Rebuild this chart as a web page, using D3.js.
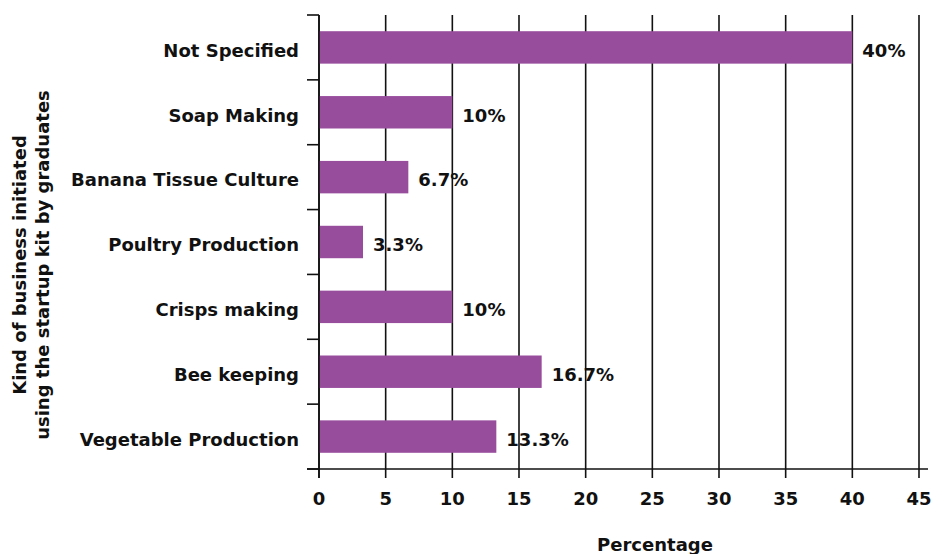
<!DOCTYPE html>
<html><head><meta charset="utf-8">
<script src="https://cdn.jsdelivr.net/npm/d3@7"></script>
<style>body{margin:0;background:#fff}</style>
</head><body>
<svg id="c" width="932" height="554"></svg>
<script>
const categories = ["Not Specified","Soap Making","Banana Tissue Culture","Poultry Production","Crisps making","Bee keeping","Vegetable Production"];
const values = [40,10,6.7,3.3,10,16.7,13.3];
const valueLabels = ["40%","10%","6.7%","3.3%","10%","16.7%","13.3%"];
const xTicks = [0,5,10,15,20,25,30,35,40,45];
const xTitle = "Percentage";
const yTitle = ["Kind of business initiated","using the startup kit by graduates"];

const FONT = "'DejaVu Sans', sans-serif";
const FS = 18;
const svg = d3.select("#c");
const L = 319, R = 919, T = 15, B = 469;
const x = d3.scaleLinear().domain([0,45]).range([L,R]);
const y = d3.scaleBand().domain(categories).range([T,B]).paddingInner(0.5).paddingOuter(0.25);
const yb = d3.scaleBand().domain(categories).range([T,B]);
const ink = "#111";

// gridlines
svg.append("g").selectAll("line").data(xTicks).join("line")
  .attr("x1",d=>x(d)).attr("x2",d=>x(d)).attr("y1",T).attr("y2",B+9)
  .attr("stroke",ink).attr("stroke-width",1.6);

// bars
svg.append("g").selectAll("rect").data(categories).join("rect")
  .attr("x",x(0)).attr("y",d=>y(d)).attr("height",y.bandwidth())
  .attr("width",(d,i)=>x(values[i])-x(0)).attr("fill","#984c9c");

// y axis line and boundary ticks
const bounds = categories.map(c=>yb(c)).concat([B]);
svg.append("line").attr("x1",L).attr("x2",L).attr("y1",T).attr("y2",B+9).attr("stroke",ink).attr("stroke-width",1.6);
svg.append("g").selectAll("line").data(bounds).join("line")
  .attr("x1",L-12).attr("x2",L).attr("y1",d=>d).attr("y2",d=>d).attr("stroke",ink).attr("stroke-width",1.6);
// x axis line
svg.append("line").attr("x1",L-12).attr("x2",928).attr("y1",B).attr("y2",B).attr("stroke",ink).attr("stroke-width",1.6);

// category labels
svg.append("g").selectAll("text").data(categories).join("text")
  .attr("x",299).attr("y",d=>y(d)+y.bandwidth()/2+3).attr("dy","0.35em")
  .attr("text-anchor","end").attr("font-family",FONT).attr("font-weight","bold").attr("font-size",FS)
  .attr("fill",ink).text(d=>d);

// value labels
svg.append("g").selectAll("text").data(categories).join("text")
  .attr("x",(d,i)=>x(values[i])+10).attr("y",d=>y(d)+y.bandwidth()/2+3).attr("dy","0.35em")
  .attr("font-family",FONT).attr("font-weight","bold").attr("font-size",FS)
  .attr("fill",ink).text((d,i)=>valueLabels[i]);

// x tick labels
svg.append("g").selectAll("text").data(xTicks).join("text")
  .attr("x",d=>x(d)).attr("y",499).attr("dy","0.35em").attr("text-anchor","middle")
  .attr("font-family",FONT).attr("font-weight","bold").attr("font-size",FS)
  .attr("fill",ink).text(d=>d);

svg.append("text").attr("x",655).attr("y",545).attr("dy","0.35em").attr("text-anchor","middle")
  .attr("font-family",FONT).attr("font-weight","bold").attr("font-size",FS).attr("fill",ink).text(xTitle);

const yt = svg.append("text").attr("transform","translate(0,265) rotate(-90)")
  .attr("text-anchor","middle").attr("font-family",FONT).attr("font-weight","bold").attr("font-size",FS).attr("fill",ink);
yt.selectAll("tspan").data(yTitle).join("tspan").attr("x",0).attr("y",(d,i)=>20+i*23).attr("dy","0.35em").text(d=>d);
</script>
</body></html>
